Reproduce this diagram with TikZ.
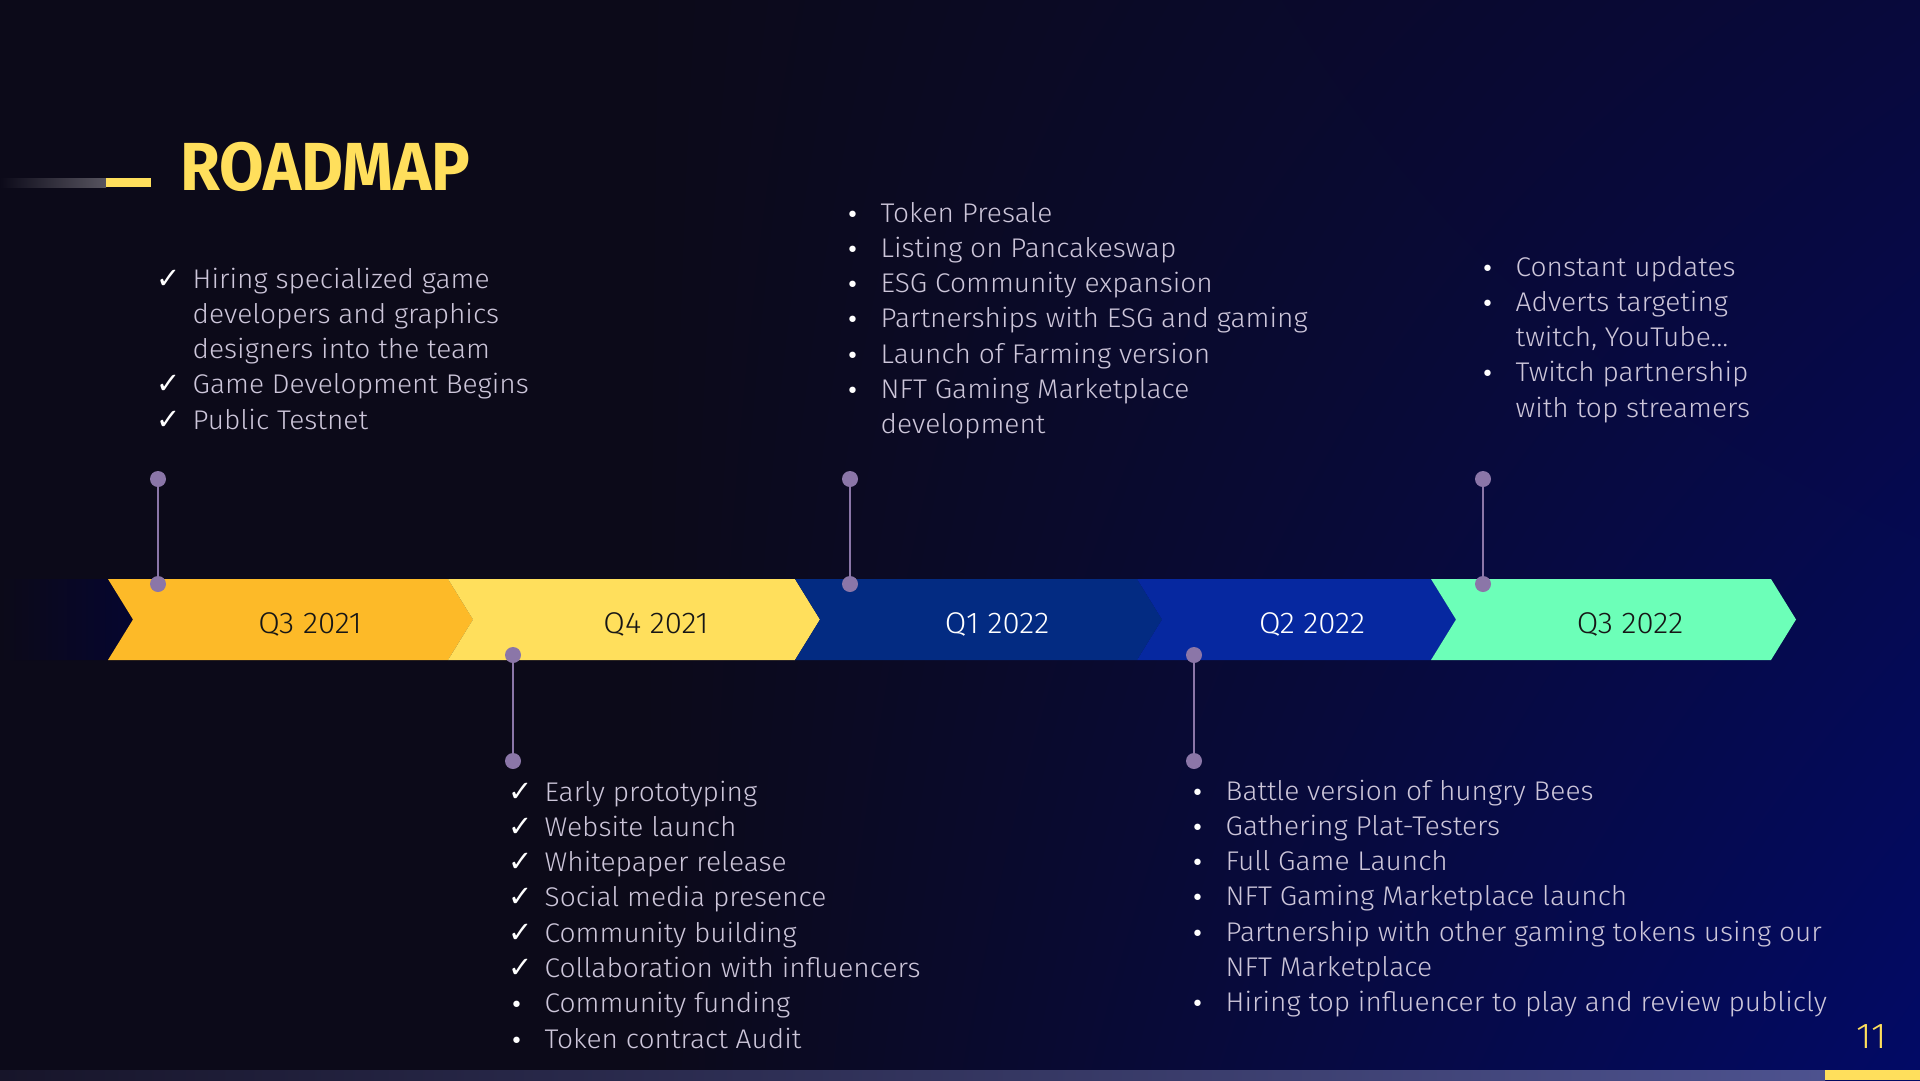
\documentclass[tikz,border=0pt]{standalone}
\usepackage{fontspec}
\setmainfont{Fira Sans}[UprightFont={* Light}, BoldFont={* Bold}, FakeStretch=1.04]
\newfontfamily\symfont{DejaVu Sans}
\newfontfamily\symbold{DejaVu Sans}[UprightFont={* Bold}]
\newfontfamily\headfont{Fira Sans}[UprightFont={* Bold}, FakeStretch=0.95]
\usetikzlibrary{shadings}

\definecolor{bgdark}{HTML}{0C0A19}
\definecolor{bgtopright}{HTML}{08093C}
\definecolor{bgnavy}{HTML}{020A66}
\definecolor{gold}{HTML}{FFDF5C}
\definecolor{amber}{HTML}{FDBA28}
\definecolor{deepblue}{HTML}{032B82}
\definecolor{royal}{HTML}{0628A0}
\definecolor{mint}{HTML}{6CFFB8}
\definecolor{pincol}{HTML}{8B76A8}
\definecolor{copy}{HTML}{CDC6DA}
\definecolor{ink}{HTML}{161616}
\definecolor{lead}{HTML}{05052F}
\definecolor{barstart}{HTML}{17152A}
\definecolor{barend}{HTML}{4D528F}
\definecolor{rulegrey}{HTML}{57545F}

% marker boxes for the list entries
\newcommand\tick{\makebox[35.5pt][l]{\hspace{-1pt}\symbold\fontsize{29}{29}\selectfont\color{white}✓}}
\newcommand\bul{\makebox[35.5pt][l]{\hspace{1pt}\symfont\fontsize{22}{22}\selectfont\color{white}•}}
\newcommand\cont{\makebox[35.5pt]{}}

\tikzset{
  pinend/.style={circle, fill=pincol, inner sep=0pt, minimum size=16pt},
  pinline/.style={draw=pincol, line width=2.6pt},
  phase/.style={font=\fontsize{30}{36}\selectfont, anchor=base, inner sep=0pt},
  roadlist/.style={font=\fontsize{27}{35.3}\selectfont, text=copy, anchor=base west, inner sep=0pt},
}

\begin{document}
\begin{tikzpicture}[x=1pt, y=-1pt]
\useasboundingbox (0,0) rectangle (1920,1080);

% backdrop: dark on the left, deepening to navy on the right
\fill[bgdark] (0,0) rectangle (1920,1080);
\shade[upper left=bgdark, lower left=bgdark, upper right=bgtopright, lower right=bgnavy]
  (640,0) rectangle (1920,1080);

% title with its rule
\shade[left color=bgdark, right color=rulegrey] (0,178) rectangle (106,187);
\fill[gold] (106,178) rectangle (151,187);
\node[anchor=base west, inner sep=0pt, font=\fontsize{68}{68}\selectfont\headfont, text=gold] (title) at (180,190) {ROADMAP};

% lead-in of the band
\shade[left color=bgdark, right color=lead] (0,579) -- (108,579) -- (133,619.5) -- (108,660) -- (0,660) -- cycle;

% timeline band
\fill[amber] (108,579) -- (448,579) -- (473,619.5) -- (448,660) -- (108,660) -- (133,619.5) -- cycle;
\fill[gold] (448,579) -- (795,579) -- (820,619.5) -- (795,660) -- (448,660) -- (473,619.5) -- cycle;
\fill[deepblue] (795,579) -- (1137,579) -- (1162,619.5) -- (1137,660) -- (795,660) -- (820,619.5) -- cycle;
\fill[royal] (1137,579) -- (1431,579) -- (1456,619.5) -- (1431,660) -- (1137,660) -- (1162,619.5) -- cycle;
\fill[mint] (1431,579) -- (1771,579) -- (1796,619.5) -- (1771,660) -- (1431,660) -- (1456,619.5) -- cycle;

\node[phase, text=ink] (q3y21) at (310,633) {Q3 2021};
\node[phase, text=ink] (q4y21) at (656,633) {Q4 2021};
\node[phase, text=white] (q1y22) at (997,633) {Q1 2022};
\node[phase, text=white] (q2y22) at (1312,633) {Q2 2022};
\node[phase, text=ink] (q3y22) at (1630,633) {Q3 2022};

% pins joining the band to the notes
\node[pinend] (pinAtop) at (158,479) {};
\node[pinend] (pinAbot) at (158,584) {};
\draw[pinline] (pinAtop) -- (pinAbot);
\node[pinend] (pinBtop) at (513,655) {};
\node[pinend] (pinBbot) at (513,761) {};
\draw[pinline] (pinBtop) -- (pinBbot);
\node[pinend] (pinCtop) at (850,479) {};
\node[pinend] (pinCbot) at (850,584) {};
\draw[pinline] (pinCtop) -- (pinCbot);
\node[pinend] (pinDtop) at (1194,655) {};
\node[pinend] (pinDbot) at (1194,761) {};
\draw[pinline] (pinDtop) -- (pinDbot);
\node[pinend] (pinEtop) at (1483,479) {};
\node[pinend] (pinEbot) at (1483,584) {};
\draw[pinline] (pinEtop) -- (pinEbot);

% notes for each quarter (tabular[t] keeps the node's baseline on the first line)
\node[roadlist] (notesA) at (157,288) {\begin{tabular}[t]{@{}l@{}}
  \tick Hiring specialized game\\
  \cont developers and graphics\\
  \cont designers into the team\\
  \tick Game Development Begins\\
  \tick Public Testnet\end{tabular}};

\node[roadlist] (notesC) at (845,222) {\begin{tabular}[t]{@{}l@{}}
  \bul Token Presale\\
  \bul Listing on Pancakeswap\\
  \bul ESG Community expansion\\
  \bul Partnerships with ESG and gaming\\
  \bul Launch of Farming version\\
  \bul NFT Gaming Marketplace\\
  \cont development\end{tabular}};

\node[roadlist] (notesE) at (1480,276) {\begin{tabular}[t]{@{}l@{}}
  \bul Constant updates\\
  \bul Adverts targeting\\
  \cont twitch, YouTube…\\
  \bul Twitch partnership\\
  \cont with top streamers\end{tabular}};

\node[roadlist] (notesB) at (509,801) {\begin{tabular}[t]{@{}l@{}}
  \tick Early prototyping\\
  \tick Website launch\\
  \tick Whitepaper release\\
  \tick Social media presence\\
  \tick Community building\\
  \tick Collaboration with influencers\\
  \bul Community funding\\
  \bul Token contract Audit\end{tabular}};

\node[roadlist] (notesD) at (1190,800) {\begin{tabular}[t]{@{}l@{}}
  \bul Battle version of hungry Bees\\
  \bul Gathering Plat-Testers\\
  \bul Full Game Launch\\
  \bul NFT Gaming Marketplace launch\\
  \bul Partnership with other gaming tokens using our\\
  \cont NFT Marketplace\\
  \bul Hiring top influencer to play and review publicly\end{tabular}};

% page number and footer strip
\node[anchor=base, inner sep=0pt, font=\fontsize{36}{36}\selectfont, text=gold] (pageno) at (1872,1048) {11};
\shade[left color=barstart, right color=barend] (0,1070) rectangle (1825,1080);
\fill[gold] (1825,1070) rectangle (1920,1080);
\end{tikzpicture}
\end{document}
